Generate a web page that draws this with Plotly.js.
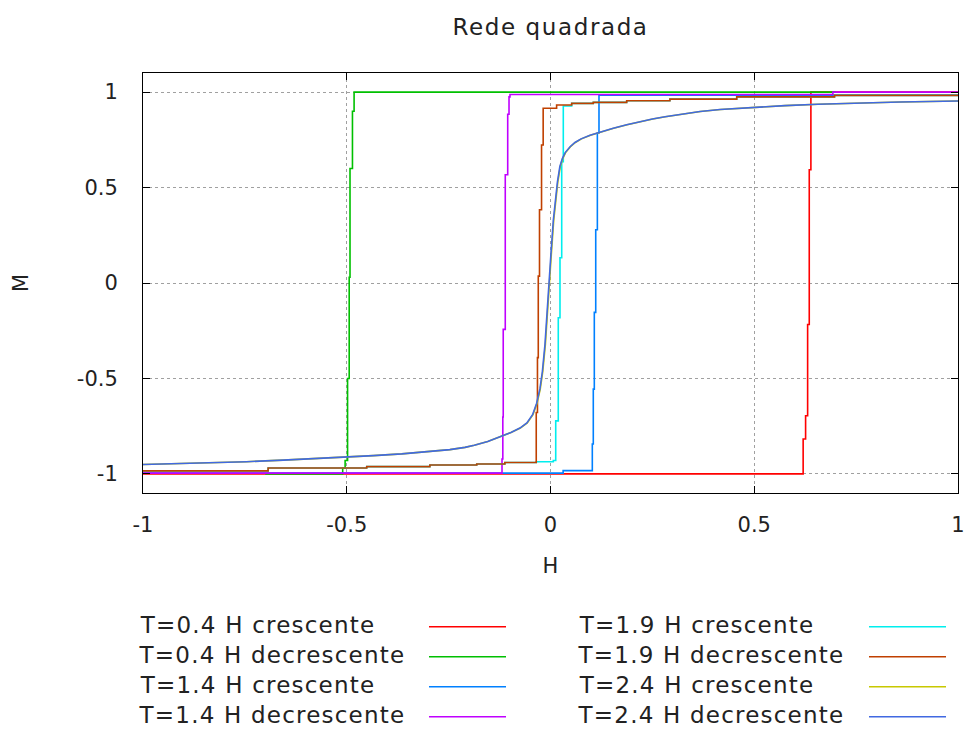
<!DOCTYPE html>
<html>
<head>
<meta charset="utf-8">
<script src="https://cdn.plot.ly/plotly-3.0.1.min.js"></script>
<style>
  html, body { margin: 0; padding: 0; background: #fff; }
  #chart { width: 967px; height: 729px; }
  #chart .annotation-text { letter-spacing: 1.2px; }
  #chart .gtitle { letter-spacing: 1.6px; }
</style>
</head>
<body>
<div id="chart"></div>
<script>
// Magnetização M em função do campo H (rede quadrada), ramos crescente e decrescente

// T=0.4
const h04c = [-1, 0.620, 0.626, 0.631, 0.635, 0.639, 1];
const m04c = [-1, -0.817, -0.695, -0.217, 0.593, 1, 1];
const h04d = [0.70, -0.482, -0.486, -0.492, -0.494, -0.498, -0.504, -0.510, -0.70];
const m04d = [1, 0.90, 0.60, 0.03, -0.50, -0.93, -0.97, -1, -1];

// T=1.4
const h14c = [-1, 0.031, 0.1026, 0.105, 0.1075, 0.111, 0.115, 0.119, 1];
const m14c = [-0.996, -0.983, -0.843, -0.556, -0.154, 0.279, 0.786, 0.984, 0.984];
const h14d = [1, 0.693, -0.0994, -0.1018, -0.105, -0.111, -0.116, -0.117, -0.119, -1];
const m14d = [1, 0.987, 0.975, 0.884, 0.567, -0.243, -0.702, -0.922, -0.996, -0.996];

// T=1.9
const h19c = [-1, -0.693, -0.451, -0.296, -0.181, -0.112, -0.035, 0.0069, 0.0128, 0.0191, 0.0233, 0.0275, 0.0314, 0.052, 0.105, 0.187, 0.293, 0.457, 0.697, 1];
const m19c = [-0.984, -0.969, -0.962, -0.953, -0.948, -0.940, -0.936, -0.930, -0.722, -0.182, 0.132, 0.636, 0.927, 0.941, 0.946, 0.955, 0.963, 0.975, 0.983, 0.983];
const h19d = [1, 0.697, 0.457, 0.293, 0.187, 0.105, 0.052, 0.015, -0.018, -0.022, -0.027, -0.030, -0.032, -0.035, -0.112, -0.181, -0.296, -0.451, -0.693, -1];
const m19d = [0.983, 0.975, 0.963, 0.955, 0.946, 0.941, 0.932, 0.915, 0.723, 0.384, 0.036, -0.391, -0.678, -0.940, -0.948, -0.953, -0.962, -0.969, -0.984, -0.984];

// T=2.4
const h24c = [-1, -0.856, -0.746, -0.656, -0.574, -0.507, -0.435, -0.365, -0.296, -0.247, -0.210, -0.187, -0.154, -0.121, -0.097, -0.074, -0.057, -0.043, -0.033, -0.025, -0.019, -0.0125, -0.008, -0.003, 0.002, 0.008, 0.014, 0.018, 0.024, 0.030, 0.037, 0.049, 0.061, 0.076, 0.098, 0.122, 0.155, 0.188, 0.221, 0.251, 0.282, 0.326, 0.368, 0.417, 0.491, 0.576, 0.657, 0.748, 0.859, 1];
const m24c = [-0.951, -0.944, -0.936, -0.928, -0.920, -0.912, -0.904, -0.895, -0.884, -0.873, -0.861, -0.850, -0.830, -0.805, -0.783, -0.760, -0.733, -0.690, -0.630, -0.555, -0.465, -0.320, -0.190, -0.040, 0.150, 0.330, 0.455, 0.530, 0.610, 0.652, 0.683, 0.714, 0.736, 0.755, 0.774, 0.791, 0.811, 0.829, 0.846, 0.859, 0.871, 0.886, 0.898, 0.909, 0.920, 0.929, 0.936, 0.942, 0.948, 0.953];
const h24d = [-1, -0.856, -0.746, -0.656, -0.574, -0.507, -0.435, -0.365, -0.296, -0.247, -0.210, -0.187, -0.154, -0.121, -0.097, -0.075, -0.058, -0.044, -0.034, -0.026, -0.020, -0.0135, -0.009, -0.004, 0.001, 0.007, 0.013, 0.017, 0.023, 0.029, 0.036, 0.048, 0.060, 0.075, 0.097, 0.121, 0.154, 0.187, 0.220, 0.250, 0.281, 0.325, 0.367, 0.416, 0.490, 0.575, 0.656, 0.747, 0.858, 1];
const m24d = [-0.951, -0.944, -0.936, -0.928, -0.920, -0.912, -0.904, -0.895, -0.884, -0.873, -0.861, -0.850, -0.830, -0.805, -0.783, -0.760, -0.733, -0.690, -0.630, -0.555, -0.465, -0.320, -0.190, -0.040, 0.150, 0.330, 0.455, 0.530, 0.610, 0.652, 0.683, 0.714, 0.736, 0.755, 0.774, 0.791, 0.811, 0.829, 0.846, 0.859, 0.871, 0.886, 0.898, 0.909, 0.920, 0.929, 0.936, 0.942, 0.948, 0.953];

const seriesNames = [
  'T=0.4 H crescente', 'T=0.4 H decrescente',
  'T=1.4 H crescente', 'T=1.4 H decrescente',
  'T=1.9 H crescente', 'T=1.9 H decrescente',
  'T=2.4 H crescente', 'T=2.4 H decrescente'
];
const seriesColors = ['#ff0000', '#00c000', '#0080ff', '#c000ff', '#00eeee', '#c04000', '#c8c800', '#4169e1'];
const seriesH = [h04c, h04d, h14c, h14d, h19c, h19d, h24c, h24d];
const seriesM = [m04c, m04d, m14c, m14d, m19c, m19d, m24c, m24d];
const seriesShape = ['hv', 'hv', 'hv', 'hv', 'hv', 'hv', 'linear', 'linear'];

const FONT = '"DejaVu Sans", Verdana, sans-serif';
const INK = '#222';
const LW = 1.6;

const traces = seriesNames.map((name, i) => ({
  type: 'scatter',
  mode: 'lines',
  name: name,
  x: seriesH[i],
  y: seriesM[i],
  line: { color: seriesColors[i], width: LW, shape: seriesShape[i] },
  showlegend: false,
  hoverinfo: 'skip'
}));

// Plot-area geometry (px) used to place the key below the axes
const L = 143, R = 958, T = 73, B = 493;
const px2x = px => (px - L) / (R - L);
const py2y = py => (B - py) / (B - T);

const keyRows = [626.7, 656.7, 686.7, 716.7];
const keyTextLift = 1.5;
// the letter spacing widens each label about its centre, so the anchor sits a little right
const keyCols = [
  { text: 149, line0: 429, line1: 506 },
  { text: 588, line0: 869, line1: 946 }
];

const annotations = [];
const shapes = [];
seriesNames.forEach((name, i) => {
  const col = keyCols[Math.floor(i / 4)];
  const row = keyRows[i % 4];
  annotations.push({
    xref: 'paper', yref: 'paper',
    x: px2x(col.text), y: py2y(row - keyTextLift),
    xanchor: 'left', yanchor: 'middle',
    borderpad: 0,
    text: name, showarrow: false,
    font: { family: FONT, size: 23, color: INK }
  });
  shapes.push({
    type: 'line', xref: 'paper', yref: 'paper',
    x0: px2x(col.line0), x1: px2x(col.line1),
    y0: py2y(row), y1: py2y(row),
    line: { color: seriesColors[i], width: LW }
  });
});

const axisCommon = {
  showline: true, linecolor: '#000', linewidth: 1, mirror: 'ticks',
  ticks: 'inside', ticklen: 7, tickcolor: '#000', tickwidth: 1,
  showgrid: true, gridcolor: '#a0a0a0', griddash: 'dot', gridwidth: 1,
  zeroline: false,
  tickfont: { family: FONT, size: 21, color: INK }
};

const layout = {
  width: 967, height: 729,
  margin: { l: L, r: 967 - R, t: T, b: 729 - B, pad: 0 },
  paper_bgcolor: '#fff', plot_bgcolor: '#fff',
  title: {
    text: 'Rede quadrada',
    font: { family: FONT, size: 23, color: INK },
    x: 0.5, xref: 'paper', xanchor: 'center',
    y: 1 - 27 / 729, yref: 'container', yanchor: 'middle'
  },
  xaxis: Object.assign({}, axisCommon, {
    range: [-1, 1],
    tickvals: [-1, -0.5, 0, 0.5, 1],
    ticktext: ['-1', '-0.5', '0', '0.5', '1'],
    ticklabelstandoff: 13,
    title: { text: 'H', font: { family: FONT, size: 21, color: INK }, standoff: 22 }
  }),
  yaxis: Object.assign({}, axisCommon, {
    range: [-1.1, 1.1],
    tickvals: [-1, -0.5, 0, 0.5, 1],
    ticktext: ['-1', '-0.5', '0', '0.5', '1'],
    ticklabelstandoff: 20,
    title: { text: 'M', font: { family: FONT, size: 21, color: INK }, standoff: 42 }
  }),
  annotations: annotations,
  shapes: shapes,
  showlegend: false
};

Plotly.newPlot('chart', traces, layout, { staticPlot: true, displayModeBar: false });
</script>
</body>
</html>
